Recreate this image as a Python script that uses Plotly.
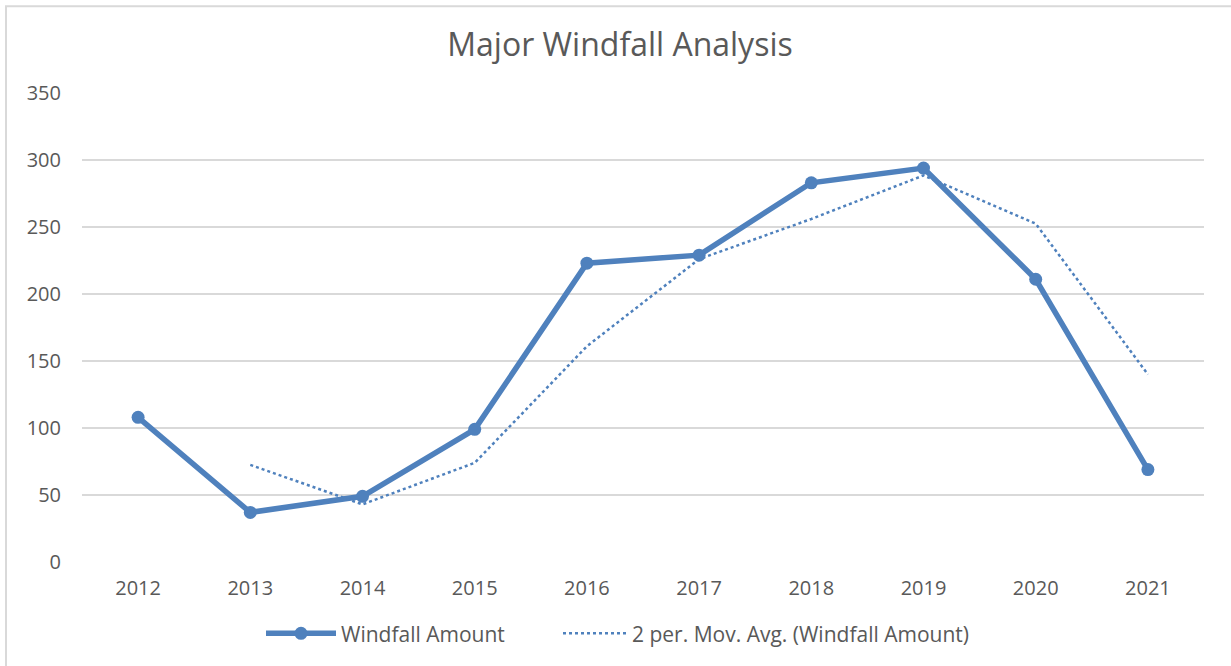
import plotly.graph_objects as go

years = ["2012", "2013", "2014", "2015", "2016", "2017", "2018", "2019", "2020", "2021"]
windfall = [108, 37, 49, 99, 223, 229, 283, 294, 211, 69]
mov_avg_years = ["2013", "2014", "2015", "2016", "2017", "2018", "2019", "2020", "2021"]
mov_avg = [72.5, 43, 74, 161, 226, 256, 288.5, 252.5, 140]
y_ticks = [0, 50, 100, 150, 200, 250, 300, 350]

BLUE = "#4F81BD"
TEXT = "#595959"
GRID = "#D9D9D9"
FONT = "Open Sans"

W, H = 1231, 666
L, R, T, B = 82, W - 1204, 93, H - 564
pw, ph = W - L - R, H - T - B


def px(xp):
    return (xp - L) / pw


def py(yp):
    return (H - B - yp) / ph


fig = go.Figure()
fig.add_trace(go.Scatter(
    x=years, y=windfall, name="Windfall Amount", mode="lines+markers",
    line=dict(color=BLUE, width=5.5), marker=dict(color=BLUE, size=13),
    legend="legend",
))
fig.add_trace(go.Scatter(
    x=mov_avg_years, y=mov_avg, name="2 per. Mov. Avg. (Windfall Amount)", mode="lines",
    line=dict(color=BLUE, width=2.5, dash="dot"),
    legend="legend2",
))

fig.add_shape(type="rect", xref="paper", yref="paper",
              x0=px(6), x1=px(1260), y0=py(690), y1=py(6),
              line=dict(color=GRID, width=2), fillcolor="rgba(0,0,0,0)", layer="below")

legend_common = dict(orientation="h", yanchor="middle", y=py(636), xanchor="left",
                     font=dict(size=21, color=TEXT), tracegroupgap=0,
                     bgcolor="rgba(0,0,0,0)")

fig.update_layout(
    width=W, height=H,
    margin=dict(l=L, r=R, t=T, b=B),
    paper_bgcolor="white", plot_bgcolor="white",
    font=dict(family=FONT, color=TEXT, size=20),
    title=dict(text="Major Windfall Analysis", x=620 / W, xanchor="center",
               xref="container",
               y=1 - 45 / H, yanchor="middle",
               font=dict(family=FONT, size=32, color=TEXT)),
    xaxis=dict(type="category", categoryorder="array", categoryarray=years,
               range=[-0.5, 9.5], showgrid=False, zeroline=False, showline=False,
               ticks="", tickfont=dict(size=20, color=TEXT), ticklabelstandoff=12),
    yaxis=dict(range=[0, 350], tickvals=y_ticks, showgrid=True, gridcolor=GRID,
               gridwidth=1.5, zeroline=False, showline=False, ticks="",
               tickfont=dict(size=20, color=TEXT), ticklabelstandoff=20),
    legend=dict(x=px(261), itemwidth=70, **legend_common),
    legend2=dict(x=px(558), itemwidth=64, **legend_common),
    showlegend=True,
)

fig.write_html("out.html", config={"displayModeBar": False},
               post_script="document.body.style.margin='0px';")
